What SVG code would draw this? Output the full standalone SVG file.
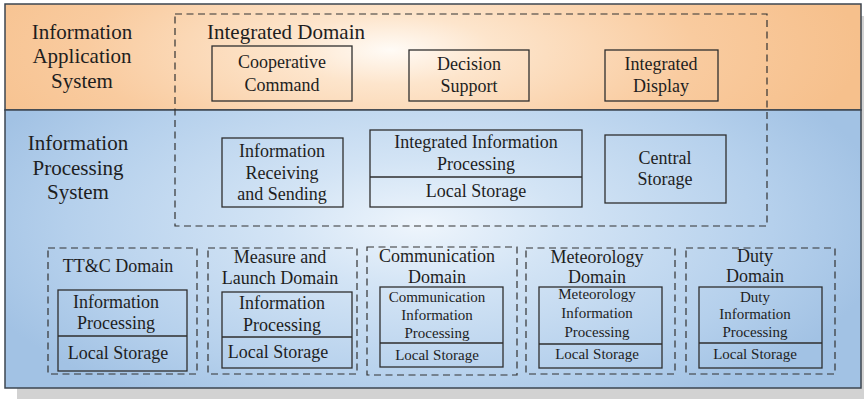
<svg xmlns="http://www.w3.org/2000/svg" width="864" height="399" viewBox="0 0 864 399" font-family="'Liberation Serif', 'Times New Roman', 'DejaVu Serif', serif">
  <defs>
    <radialGradient id="appGrad" gradientUnits="userSpaceOnUse" cx="390" cy="50" r="470" gradientTransform="translate(390 50) scale(1 0.33) translate(-390 -50)">
      <stop offset="0" stop-color="#fffbf6"/>
      <stop offset="0.22" stop-color="#fde5cc"/>
      <stop offset="0.65" stop-color="#f9cb9f"/>
      <stop offset="1" stop-color="#f6c08c"/>
    </radialGradient>
    <radialGradient id="procGrad" gradientUnits="userSpaceOnUse" cx="420" cy="225" r="470" gradientTransform="translate(420 225) scale(1 0.45) translate(-420 -225)">
      <stop offset="0" stop-color="#eef5fc"/>
      <stop offset="0.3" stop-color="#d3e4f5"/>
      <stop offset="0.75" stop-color="#b5d0ec"/>
      <stop offset="1" stop-color="#a2c2e4"/>
    </radialGradient>
    <style>
      text { font-family: "Liberation Serif", "Times New Roman", "DejaVu Serif", serif; fill: #1e1e1e; text-anchor: middle; }
      .big { font-size: 21px; }
      .mid { font-size: 18px; }
      .small { font-size: 15px; }
      .box { fill: none; stroke: #2e2e2e; stroke-width: 1.3; }
      .split { stroke: #2e2e2e; stroke-width: 1.6; }
      .dash { fill: none; stroke: #333; stroke-width: 1.2; stroke-dasharray: 7 4.5; }
    </style>
  </defs>

  <!-- drop shadow of the outer frame -->
  <rect x="17" y="16" width="847" height="383" fill="#d2d2d2"/>

  <!-- layer bands -->
  <g id="application-system">
    <rect x="5" y="4" width="856" height="106" fill="url(#appGrad)" stroke="#3c4650" stroke-width="1.5"/>
    <text class="big" x="82" y="39">Information</text>
    <text class="big" x="82" y="63">Application</text>
    <text class="big" x="82" y="88">System</text>
  </g>
  <g id="processing-system">
    <rect x="5" y="110" width="856" height="278" fill="url(#procGrad)" stroke="#3c4650" stroke-width="1.5"/>
    <text class="big" x="78" y="150">Information</text>
    <text class="big" x="78" y="175">Processing</text>
    <text class="big" x="78" y="199">System</text>
  </g>

  <!-- integrated domain spanning both layers -->
  <g id="integrated-domain">
    <rect class="dash" x="175" y="14" width="592" height="212"/>
    <text class="big" x="286" y="39">Integrated Domain</text>
  </g>

  <g id="cooperative-command">
    <rect class="box" x="212" y="46" width="140" height="55"/>
    <text class="mid" x="282" y="68">Cooperative</text>
    <text class="mid" x="282" y="91">Command</text>
  </g>
  <g id="decision-support">
    <rect class="box" x="409" y="50" width="120" height="51"/>
    <text class="mid" x="469" y="70">Decision</text>
    <text class="mid" x="469" y="92">Support</text>
  </g>
  <g id="integrated-display">
    <rect class="box" x="605" y="50" width="113" height="51"/>
    <text class="mid" x="661" y="70">Integrated</text>
    <text class="mid" x="661" y="92">Display</text>
  </g>

  <g id="info-receiving-sending">
    <rect class="box" x="222" y="138" width="121" height="69"/>
    <text class="mid" x="282" y="157">Information</text>
    <text class="mid" x="282" y="179">Receiving</text>
    <text class="mid" x="282" y="200">and Sending</text>
  </g>
  <g id="integrated-info-processing">
    <rect class="box" x="370" y="130" width="212" height="77"/>
    <line class="split" x1="370" y1="177" x2="582" y2="177"/>
    <text class="mid" x="476" y="148">Integrated Information</text>
    <text class="mid" x="476" y="170">Processing</text>
    <text class="mid" x="476" y="197">Local Storage</text>
  </g>
  <g id="central-storage">
    <rect class="box" x="605" y="135" width="121" height="68"/>
    <text class="mid" x="665" y="164">Central</text>
    <text class="mid" x="665" y="185">Storage</text>
  </g>

  <!-- business domains -->
  <g id="ttc-domain">
    <rect class="dash" x="48" y="248" width="149" height="126"/>
    <text class="mid" x="118" y="272">TT&amp;C Domain</text>
    <rect class="box" x="58" y="290" width="129" height="81"/>
    <line class="split" x1="58" y1="336" x2="187" y2="336"/>
    <text class="mid" x="116" y="308">Information</text>
    <text class="mid" x="116" y="329">Processing</text>
    <text class="mid" x="118" y="359">Local Storage</text>
  </g>
  <g id="measure-launch-domain">
    <rect class="dash" x="208" y="248" width="149" height="126"/>
    <text class="mid" x="280" y="263">Measure and</text>
    <text class="mid" x="280" y="284">Launch Domain</text>
    <rect class="box" x="222" y="292" width="130" height="76"/>
    <line class="split" x1="222" y1="337" x2="352" y2="337"/>
    <text class="mid" x="282" y="309">Information</text>
    <text class="mid" x="282" y="331">Processing</text>
    <text class="mid" x="278" y="358">Local Storage</text>
  </g>
  <g id="communication-domain">
    <rect class="dash" x="367" y="247" width="150" height="128"/>
    <text class="mid" x="437" y="262">Communication</text>
    <text class="mid" x="437" y="283">Domain</text>
    <rect class="box" x="380" y="287" width="123" height="80"/>
    <line class="split" x1="380" y1="343" x2="503" y2="343"/>
    <text class="small" x="437" y="302">Communication</text>
    <text class="small" x="437" y="320">Information</text>
    <text class="small" x="437" y="338">Processing</text>
    <text class="small" x="437" y="360">Local Storage</text>
  </g>
  <g id="meteorology-domain">
    <rect class="dash" x="526" y="248" width="149" height="126"/>
    <text class="mid" x="597" y="263">Meteorology</text>
    <text class="mid" x="597" y="283">Domain</text>
    <rect class="box" x="539" y="287" width="123" height="81"/>
    <line class="split" x1="539" y1="344" x2="662" y2="344"/>
    <text class="small" x="597" y="299">Meteorology</text>
    <text class="small" x="597" y="318">Information</text>
    <text class="small" x="597" y="337">Processing</text>
    <text class="small" x="597" y="359">Local Storage</text>
  </g>
  <g id="duty-domain">
    <rect class="dash" x="686" y="248" width="149" height="126"/>
    <text class="mid" x="755" y="262">Duty</text>
    <text class="mid" x="755" y="282">Domain</text>
    <rect class="box" x="699" y="287" width="123" height="81"/>
    <line class="split" x1="699" y1="343" x2="822" y2="343"/>
    <text class="small" x="755" y="302">Duty</text>
    <text class="small" x="755" y="319">Information</text>
    <text class="small" x="755" y="337">Processing</text>
    <text class="small" x="755" y="359">Local Storage</text>
  </g>

  <!-- no connectors in this layer diagram -->
  <g id="connectors"/>
</svg>
